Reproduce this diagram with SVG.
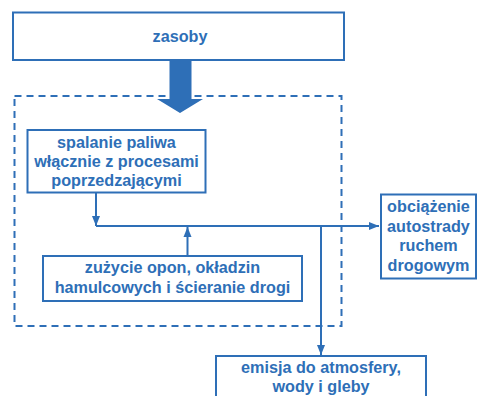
<svg xmlns="http://www.w3.org/2000/svg" width="478" height="396" viewBox="0 0 478 396">
<style>
.box{fill:#fff;stroke:#2E6FB7;stroke-width:2}
.t{font-family:"Liberation Sans",Arial,sans-serif;font-weight:bold;font-size:16.2px;fill:#2E6FB7;text-anchor:middle}
.ln{fill:none;stroke:#2E6FB7;stroke-width:2}
</style>
<defs>
<marker id="ah" viewBox="0 0 10 10" refX="10" refY="5" markerWidth="10" markerHeight="10" orient="auto" markerUnits="userSpaceOnUse">
<path d="M0,1 L10,5 L0,9 Z" fill="#2E6FB7"/>
</marker>
</defs>
<rect width="478" height="396" fill="#fff"/>
<g id="group-dashed">
<rect x="14.5" y="96" width="327" height="230" fill="none" stroke="#2E6FB7" stroke-width="2" stroke-dasharray="7,5"/>
</g>
<g id="zasoby">
<rect class="box" x="13" y="12.5" width="331" height="47.5"/>
<text class="t" x="180" y="41.5">zasoby</text>
</g>
<g id="connectors">
<path d="M169.5,60 L191.5,60 L191.5,99 L203,99 L180,113 L157,99 L169.5,99 Z" fill="#2E6FB7"/>
<path class="ln" d="M96,193 L96,226"/>
<path d="M92,216 L96,226 L100,216 Z" fill="#2E6FB7"/>
<path class="ln" d="M96,226 L379,226" marker-end="url(#ah)"/>
<path class="ln" d="M187.5,256 L187.5,227" marker-end="url(#ah)"/>
<path class="ln" d="M321,226 L321,355" marker-end="url(#ah)"/>
</g>
<g id="spalanie">
<rect class="box" x="27.5" y="130" width="178" height="62.5"/>
<text class="t" x="116.5" y="147.5">spalanie paliwa</text>
<text class="t" x="116.5" y="167">włącznie z procesami</text>
<text class="t" x="116.5" y="186">poprzedzającymi</text>
</g>
<g id="zuzycie">
<rect class="box" x="43" y="256" width="259" height="45"/>
<text class="t" x="172.5" y="273">zużycie opon, okładzin</text>
<text class="t" x="172.5" y="293">hamulcowych i ścieranie drogi</text>
</g>
<g id="obciazenie">
<rect class="box" x="381" y="194.5" width="95" height="84"/>
<text class="t" x="428.5" y="212">obciążenie</text>
<text class="t" x="428.5" y="231.5">autostrady</text>
<text class="t" x="428.5" y="251">ruchem</text>
<text class="t" x="428.5" y="270.5">drogowym</text>
</g>
<g id="emisja">
<rect class="box" x="216" y="356" width="210" height="50"/>
<text class="t" x="321" y="373">emisja do atmosfery,</text>
<text class="t" x="321" y="392">wody i gleby</text>
</g>
</svg>
